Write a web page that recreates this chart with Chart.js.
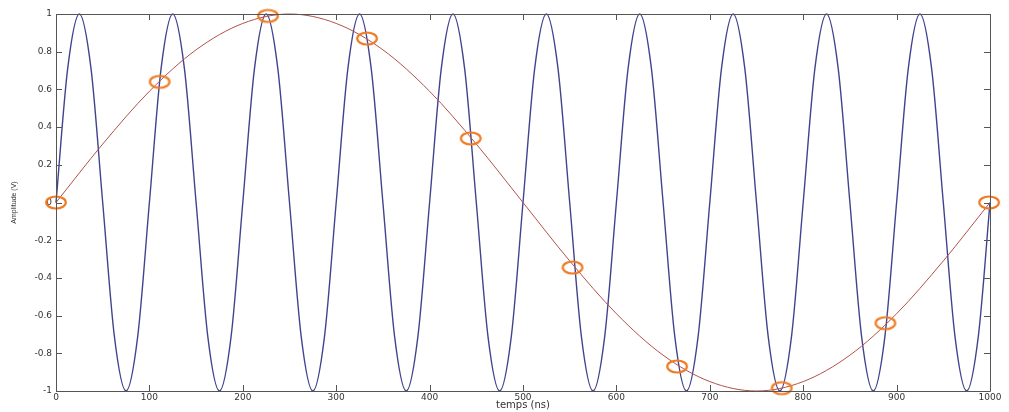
<!DOCTYPE html>
<html>
<head>
<meta charset="utf-8">
<script src="https://cdn.jsdelivr.net/npm/chart.js@4/dist/chart.umd.min.js"></script>
<style>
html,body{margin:0;padding:0;background:#fff;}
#wrap{width:1009px;height:412px;}
</style>
</head>
<body>
<div id="wrap"><canvas id="c" width="1009" height="412"></canvas></div>
<script>
// fast carrier (blue), sampled every 12.5 ns
const blueT = [0,12.5,25,37.5,50,62.5,75,87.5,100,112.5,125,137.5,150,162.5,175,187.5,200,212.5,225,237.5,250,262.5,275,287.5,300,312.5,325,337.5,350,362.5,375,387.5,400,412.5,425,437.5,450,462.5,475,487.5,500,512.5,525,537.5,550,562.5,575,587.5,600,612.5,625,637.5,650,662.5,675,687.5,700,712.5,725,737.5,750,762.5,775,787.5,800,812.5,825,837.5,850,862.5,875,887.5,900,912.5,925,937.5,950,962.5,975,987.5,1000];
const blueV = [0,0.71,1,0.71,0,-0.71,-1,-0.71,
               0,0.71,1,0.71,0,-0.71,-1,-0.71,
               0,0.71,1,0.71,0,-0.71,-1,-0.71,
               0,0.71,1,0.71,0,-0.71,-1,-0.71,
               0,0.71,1,0.71,0,-0.71,-1,-0.71,
               0,0.71,1,0.71,0,-0.71,-1,-0.71,
               0,0.71,1,0.71,0,-0.71,-1,-0.71,
               0,0.71,1,0.71,0,-0.71,-1,-0.71,
               0,0.71,1,0.71,0,-0.71,-1,-0.71,
               0,0.71,1,0.71,0,-0.71,-1,-0.71,
               0];
// slow signal (red), sampled every 50 ns
const redT = [0,50,100,150,200,250,300,350,400,450,500,550,600,650,700,750,800,850,900,950,1000];
const redV = [0,0.31,0.59,0.81,0.95,1,0.95,0.81,0.59,0.31,0,-0.31,-0.59,-0.81,-0.95,-1,-0.95,-0.81,-0.59,-0.31,0];
// sampled points (orange circles)
const sampT = [0,111,227,333,444,553,665,777,888,999];
const sampV = [0,0.64,0.99,0.87,0.34,-0.345,-0.87,-0.985,-0.64,0];
// tick labels
const xTicks = [0,100,200,300,400,500,600,700,800,900,1000];
const yTicks = [-1,-0.8,-0.6,-0.4,-0.2,0,0.2,0.4,0.6,0.8,1];

const toXY = (t, v) => t.map((x, i) => ({x: x, y: v[i]}));

// elliptical ring marker
const ring = document.createElement('canvas');
ring.width = 24; ring.height = 17;
(function(){
  const g = ring.getContext('2d');
  g.strokeStyle = '#ef7b24';
  g.lineWidth = 2.2;
  g.beginPath();
  g.ellipse(12, 8.5, 9.8, 6, 0, 0, Math.PI * 2);
  g.stroke();
})();

const framePlugin = {
  id: 'frame',
  afterDraw(chart) {
    const {ctx, chartArea: a, scales} = chart;
    ctx.save();
    ctx.strokeStyle = '#555';
    ctx.lineWidth = 1;
    ctx.beginPath();
    ctx.rect(Math.round(a.left) + 0.5, Math.round(a.top) + 0.5, Math.round(a.right - a.left), Math.round(a.bottom - a.top));
    ctx.stroke();
    const L = 6;
    ctx.beginPath();
    scales.x.ticks.forEach((t, i) => {
      const px = Math.round(scales.x.getPixelForTick(i)) + 0.5;
      ctx.moveTo(px, a.bottom); ctx.lineTo(px, a.bottom - L);
      ctx.moveTo(px, a.top); ctx.lineTo(px, a.top + L);
    });
    scales.y.ticks.forEach((t, i) => {
      const py = Math.round(scales.y.getPixelForTick(i)) + 0.5;
      ctx.moveTo(a.left, py); ctx.lineTo(a.left + L, py);
      ctx.moveTo(a.right, py); ctx.lineTo(a.right - L, py);
    });
    ctx.stroke();
    ctx.restore();
  }
};

const tickFont = {family: 'DejaVu Sans', size: 9};

new Chart(document.getElementById('c'), {
  type: 'scatter',
  data: {
    datasets: [
      {
        label: 'samples',
        data: toXY(sampT, sampV),
        showLine: false,
        pointStyle: ring,
        pointRadius: 8,
        order: 0,
        clip: false
      },
      {
        label: 'signal',
        data: toXY(redT, redV),
        showLine: true,
        borderColor: '#b0514a',
        borderWidth: 1,
        pointRadius: 0,
        cubicInterpolationMode: 'monotone',
        order: 1,
        clip: false
      },
      {
        label: 'carrier',
        data: toXY(blueT, blueV),
        showLine: true,
        borderColor: '#40448f',
        borderWidth: 1.4,
        pointRadius: 0,
        cubicInterpolationMode: 'monotone',
        order: 2,
        clip: false
      }
    ]
  },
  options: {
    responsive: false,
    animation: false,
    events: [],
    layout: {padding: {left: 0, right: 19, top: 14, bottom: 1}},
    plugins: {legend: {display: false}, tooltip: {enabled: false}},
    scales: {
      x: {
        type: 'linear', min: 0, max: 1000,
        afterBuildTicks: s => { s.ticks = xTicks.map(v => ({value: v})); },
        afterFit: s => { s.height = 20; },
        grid: {display: false, drawTicks: false},
        border: {display: false},
        ticks: {font: tickFont, color: '#333', padding: 1, maxRotation: 0, autoSkip: false,
                callback: v => String(v)},
        title: {display: true, text: 'temps (ns)', font: {family: 'DejaVu Sans', size: 10}, color: '#333', padding: 0}
      },
      y: {
        type: 'linear', min: -1, max: 1,
        afterBuildTicks: s => { s.ticks = yTicks.map(v => ({value: v})); },
        afterFit: s => { s.width = 56; },
        grid: {display: false, drawTicks: false},
        border: {display: false},
        ticks: {font: tickFont, color: '#333', padding: 4, autoSkip: false,
                callback: v => String(Math.round(v * 10) / 10)},
        title: {display: true, text: 'Amplitude (V)', font: {family: 'Liberation Sans', size: 7}, color: '#333', padding: {top: 10, bottom: 0}}
      }
    }
  },
  plugins: [framePlugin]
});
</script>
</body>
</html>
